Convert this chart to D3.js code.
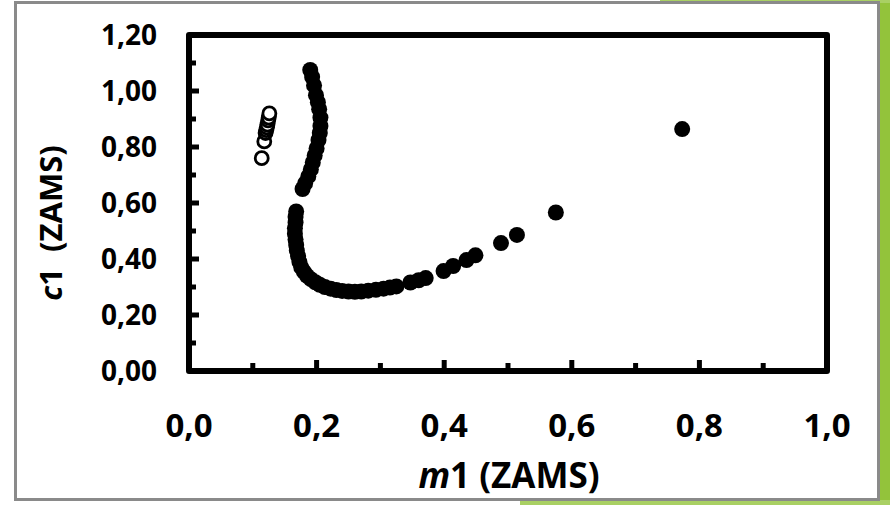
<!DOCTYPE html>
<html>
<head>
<meta charset="utf-8">
<script src="https://cdn.jsdelivr.net/npm/d3@7"></script>
<style>
  body { margin: 0; background: #fff; }
  svg { display: block; font-family: "Open Sans", sans-serif; font-weight: bold; }
</style>
</head>
<body>
<svg id="chart"></svg>
<script>
// open circles (first series)
const openM1 = [0.114, 0.118, 0.120, 0.121, 0.122, 0.123, 0.124, 0.125, 0.126];
const openC1 = [0.760, 0.820, 0.850, 0.860, 0.870, 0.880, 0.895, 0.905, 0.920];

// filled circles (second series)
const fillM1 = [0.190, 0.193, 0.196, 0.199, 0.202, 0.204, 0.206, 0.206, 0.205, 0.203, 0.200, 0.197, 0.194, 0.191, 0.187, 0.182, 0.178,
  0.168, 0.167, 0.167, 0.166, 0.166, 0.167, 0.168, 0.169, 0.171, 0.173, 0.176, 0.180, 0.185, 0.191, 0.198, 0.205, 0.213,
  0.222, 0.231, 0.240, 0.250, 0.260, 0.270, 0.281, 0.293, 0.305, 0.315, 0.325,
  0.347, 0.360, 0.371, 0.399, 0.414, 0.435, 0.449, 0.489, 0.514, 0.575, 0.773];
const fillC1 = [1.075, 1.050, 1.020, 0.985, 0.960, 0.935, 0.905, 0.875, 0.850, 0.825, 0.795, 0.770, 0.745, 0.720, 0.695, 0.670, 0.650,
  0.570, 0.550, 0.530, 0.510, 0.490, 0.470, 0.450, 0.430, 0.410, 0.390, 0.370, 0.355, 0.340, 0.328, 0.317, 0.308, 0.300,
  0.294, 0.289, 0.286, 0.284, 0.283, 0.284, 0.287, 0.290, 0.294, 0.298, 0.302,
  0.316, 0.324, 0.332, 0.357, 0.375, 0.396, 0.413, 0.457, 0.486, 0.566, 0.864];

const xTicks = [0, 0.2, 0.4, 0.6, 0.8, 1.0];
const yTicks = [0, 0.2, 0.4, 0.6, 0.8, 1.0, 1.2];

function graph() {
  const W = 890, H = 505;
  const margin = { top: 35, right: 63, bottom: 134, left: 189 };
  const width = W - margin.left - margin.right;
  const height = H - margin.top - margin.bottom;

  const svg = d3.select("#chart").attr("width", W).attr("height", H);

  // slide background bits + frame
  svg.append("rect").attr("x", 878).attr("y", 0).attr("width", 12).attr("height", H).attr("fill", "#93c33b");
  svg.append("rect").attr("x", 660).attr("y", 0).attr("width", 230).attr("height", 3).attr("fill", "#a9d064");
  svg.append("rect").attr("x", 520).attr("y", 500).attr("width", 370).attr("height", 5).attr("fill", "#a9d064");
  svg.append("rect").attr("x", 15.5).attr("y", 2.5).attr("width", 863).attr("height", 497)
    .attr("fill", "#fff").attr("stroke", "#8a8a8a").attr("stroke-width", 3);

  const x = d3.scaleLinear().domain([0, 1]).range([0, width]);
  const y = d3.scaleLinear().domain([0, 1.2]).range([height, 0]);

  const g = svg.append("g").attr("transform", "translate(" + margin.left + "," + margin.top + ")");

  const fmtX = d => d3.format(".1f")(d).replace(".", ",");
  const fmtY = d => d3.format(".2f")(d).replace(".", ",");

  // minor + major ticks, pointing inward
  const ticks = g.append("g").attr("stroke", "#000").attr("stroke-width", 5);
  d3.range(1, 10).forEach(i => {
    const v = i / 10;
    ticks.append("line").attr("x1", x(v)).attr("x2", x(v))
      .attr("y1", height).attr("y2", height - (i % 2 ? 8 : 11));
  });
  d3.range(1, 12).forEach(i => {
    const v = i / 10;
    ticks.append("line").attr("y1", y(v)).attr("y2", y(v))
      .attr("x1", 0).attr("x2", (i % 2 ? 7 : 10));
  });

  // box
  g.append("rect").attr("width", width).attr("height", height)
    .attr("fill", "none").attr("stroke", "#000").attr("stroke-width", 6)
    .attr("stroke-linejoin", "round");

  // tick labels
  g.selectAll(".xl").data(xTicks).enter().append("text")
    .attr("x", d => x(d)).attr("y", height + 66)
    .attr("text-anchor", "middle").attr("font-size", 33).text(fmtX);
  g.selectAll(".yl").data(yTicks).enter().append("text")
    .attr("x", -32).attr("y", d => y(d)).attr("dy", "0.36em")
    .attr("text-anchor", "end").attr("font-size", 28).text(fmtY);

  // axis titles
  const xt = g.append("text").attr("x", width / 2 + 1).attr("y", height + 117)
    .attr("text-anchor", "middle").attr("font-size", 35);
  xt.append("tspan").attr("font-style", "italic").text("m");
  xt.append("tspan").text("1 (ZAMS)");

  const yt = g.append("text").attr("transform", "rotate(-90)")
    .attr("x", -(height / 2) - 20).attr("y", -127)
    .attr("text-anchor", "middle").attr("font-size", 31);
  yt.append("tspan").attr("font-style", "italic").text("c");
  yt.append("tspan").attr("xml:space", "preserve").style("white-space", "pre").text("1  (ZAMS)");

  // points
  g.selectAll(".op").data(openM1).enter().append("circle")
    .attr("cx", d => x(d)).attr("cy", (d, i) => y(openC1[i])).attr("r", 6.5)
    .attr("fill", "#fff").attr("stroke", "#000").attr("stroke-width", 2.8);
  g.selectAll(".fp").data(fillM1).enter().append("circle")
    .attr("cx", d => x(d)).attr("cy", (d, i) => y(fillC1[i])).attr("r", 8)
    .attr("fill", "#000");
}
graph();
</script>
</body>
</html>
